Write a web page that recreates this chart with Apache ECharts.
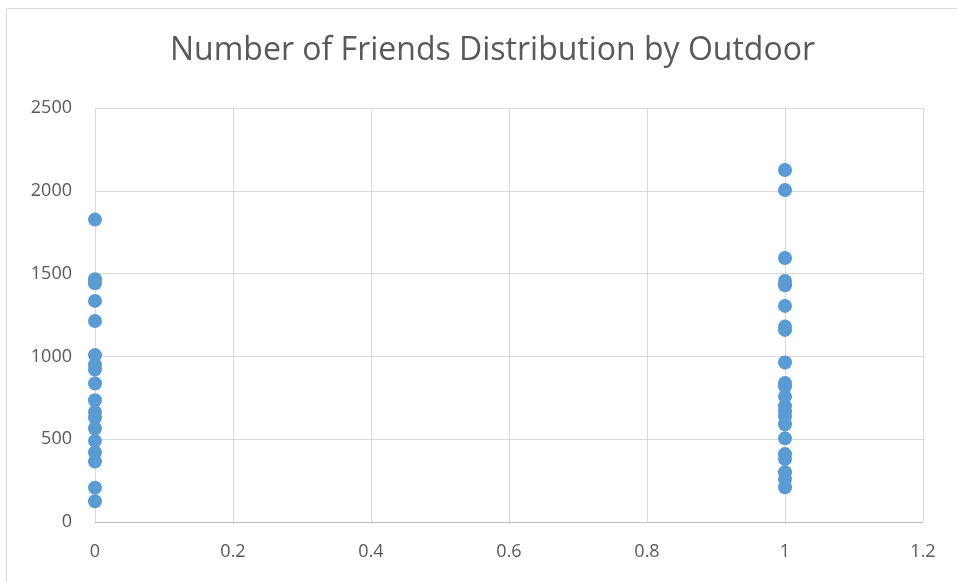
<!DOCTYPE html>
<html>
<head>
<meta charset="utf-8">
<script src="https://cdn.jsdelivr.net/npm/echarts@6/dist/echarts.min.js"></script>
<style>
  html, body { margin: 0; padding: 0; background: #fff; }
  #chart { width: 957px; height: 582px; }
</style>
</head>
<body>
<div id="chart"></div>
<script>
// Number of friends for respondents grouped by the Outdoor flag (0 / 1)
const titleText = 'Number of Friends Distribution by Outdoor';
const friendsOutdoor0 = [1826, 1466, 1442, 1335, 1214, 1008, 950, 920, 836, 735, 664, 630, 565, 490, 420, 365, 207, 125];
const friendsOutdoor1 = [2126, 2005, 1594, 1456, 1430, 1305, 1180, 1160, 963, 839, 820, 757, 700, 668, 637, 590, 505, 410, 380, 300, 260, 210];
const xTicks = [0, 0.2, 0.4, 0.6, 0.8, 1, 1.2];
const yTicks = [0, 500, 1000, 1500, 2000, 2500];

const points = [
  ...friendsOutdoor0.map(v => [0, v]),
  ...friendsOutdoor1.map(v => [1, v])
];

const chart = echarts.init(document.getElementById('chart'));
const font = '"Open Sans", Lato, sans-serif';

chart.setOption({
  animation: false,
  backgroundColor: '#ffffff',
  graphic: [{
    type: 'rect',
    shape: { x: 6.5, y: 8.5, width: 960, height: 590 },
    style: { fill: 'none', stroke: '#d9d9d9', lineWidth: 1 },
    silent: true
  }],
  title: {
    text: titleText,
    left: 165,
    top: 30,
    textStyle: { fontFamily: font, fontSize: 32, fontWeight: 'normal', color: '#595959' }
  },
  grid: { left: 95, top: 108, right: 34, bottom: 60, containLabel: false },
  xAxis: {
    type: 'value',
    min: xTicks[0],
    max: xTicks[xTicks.length - 1],
    interval: 0.2,
    axisLine: { show: true, onZero: false, lineStyle: { color: '#bfbfbf' } },
    axisTick: { show: false },
    splitLine: { show: true, lineStyle: { color: '#d9d9d9' } },
    axisLabel: {
      fontFamily: font, fontSize: 18, color: '#595959', margin: 21,
      formatter: v => String(+v.toFixed(1))
    }
  },
  yAxis: {
    type: 'value',
    min: yTicks[0],
    max: yTicks[yTicks.length - 1],
    interval: 500,
    axisLine: { show: false },
    axisTick: { show: false },
    splitLine: { show: true, lineStyle: { color: '#d9d9d9' } },
    axisLabel: { fontFamily: font, fontSize: 18, color: '#595959', margin: 23, formatter: v => String(v) }
  },
  series: [{
    type: 'scatter',
    data: points,
    symbol: 'circle',
    symbolSize: 14,
    itemStyle: { color: '#5b9bd5', opacity: 1 }
  }]
});
</script>
</body>
</html>
